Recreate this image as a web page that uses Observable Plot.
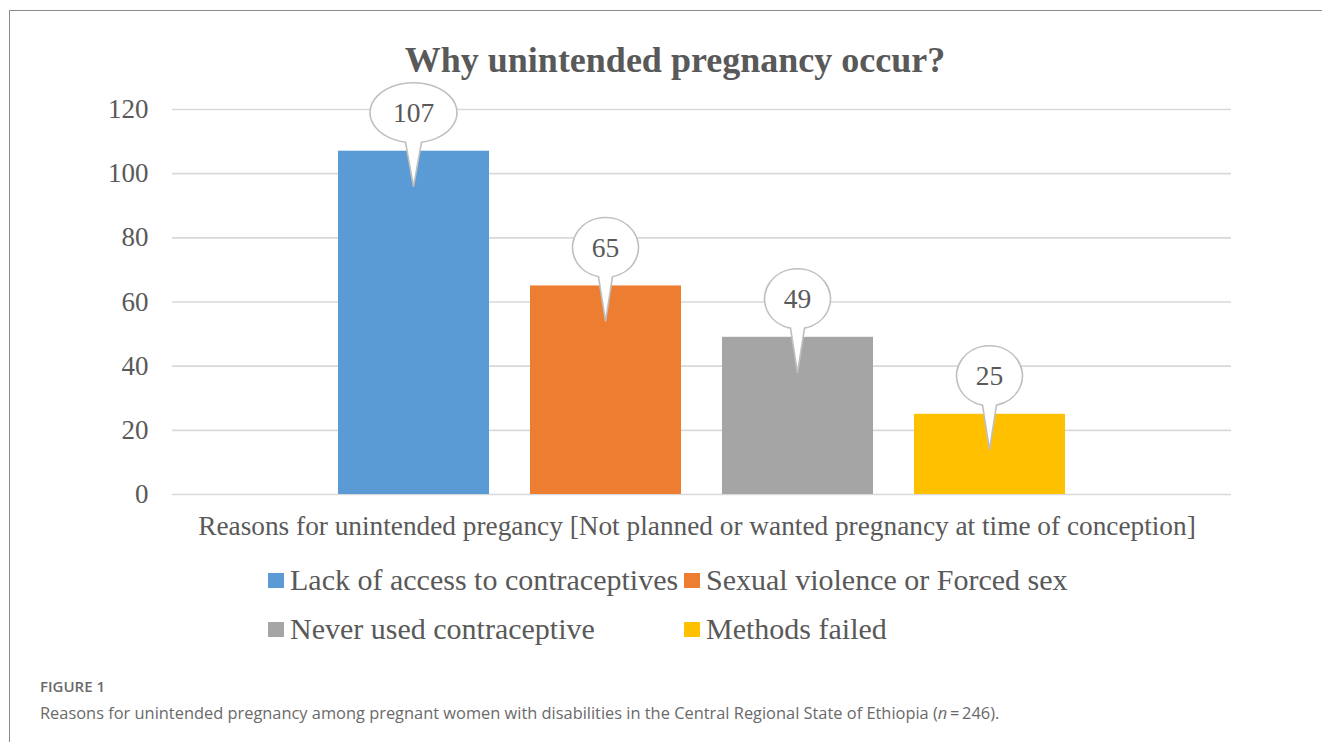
<!DOCTYPE html>
<html>
<head>
<meta charset="utf-8">
<script src="https://cdn.jsdelivr.net/npm/d3@7"></script>
<script src="https://cdn.jsdelivr.net/npm/@observablehq/plot@0.6"></script>
<style>
  html, body { margin: 0; padding: 0; background: #fff; width: 1322px; height: 742px; overflow: hidden; }
  .abs { position: absolute; white-space: nowrap; }
  .serif { font-family: "Liberation Serif", "Times New Roman", serif; }
  #frame { position: absolute; left: 9px; top: 10px; width: 1400px; height: 800px; border-left: 1.5px solid #8a8a8a; border-top: 1.5px solid #8a8a8a; }
  #title { left: 675px; top: 60px; transform: translate(-50%, -50%); font-size: 36px; font-weight: bold; color: #595959; }
  #xlabel { left: 697px; top: 526px; transform: translate(-50%, -50%); font-size: 27.3px; color: #595959; }
  .leg { font-size: 30px; color: #595959; line-height: 1; display: flex; align-items: center; }
  .sw { width: 16px; height: 15px; margin-right: 6px; display: inline-block; }
  #fig { left: 40px; top: 686px; transform: translateY(-50%); font-family: "Open Sans", sans-serif; font-size: 15px; font-weight: 600; color: #6a6a6a; }
  #cap { left: 40px; top: 712px; transform: translateY(-50%); font-family: "Open Sans", sans-serif; font-size: 16.4px; color: #6a6a6a; }
  #chart { position: absolute; left: 0; top: 70px; }
</style>
</head>
<body>
<div id="frame"></div>
<div id="title" class="abs serif"></div>
<div id="chart"></div>
<div id="xlabel" class="abs serif"></div>
<div id="legend"></div>
<div id="fig" class="abs"></div>
<div id="cap" class="abs"></div>
<script>
const titleText = "Why unintended pregnancy occur?";
const xLabelText = "Reasons for unintended pregancy [Not planned or wanted pregnancy at time of conception]";
const series = ["Lack of access to contraceptives", "Sexual violence or Forced sex", "Never used contraceptive", "Methods failed"];
const values = [107, 65, 49, 25];
const colors = ["#5b9bd5", "#ed7d31", "#a5a5a5", "#ffc000"];
const yTicks = [0, 20, 40, 60, 80, 100, 120];
const figLabel = "FIGURE 1";
const captionHTML = "Reasons for unintended pregnancy among pregnant women with disabilities in the Central Regional State of Ethiopia (<i>n</i>\u2009=\u2009246).";

document.getElementById("title").textContent = titleText;
document.getElementById("xlabel").textContent = xLabelText;
document.getElementById("fig").textContent = figLabel;
document.getElementById("cap").innerHTML = captionHTML;

const data = series.map((s, i) => ({series: s, value: values[i]}));

function callouts(index, scales, vals, dimensions, context) {
  const sx = scales.x, sy = scales.y;
  const bw = typeof sx.bandwidth === "function" ? sx.bandwidth() : sx.bandwidth;
  const g = d3.create("svg:g");
  data.forEach(d => {
    const cx = sx(d.series) + bw / 2;
    const top = sy(d.value);
    const cy = top - 38;
    const label = String(d.value);
    const rx = 12 + 10.5 * label.length;
    const ry = 30;
    const tipY = top + 36;
    const hw = label.length > 2 ? 8 : 7;
    const oy = ry * Math.sqrt(1 - (hw * hw) / (rx * rx));
    const x1 = cx - hw, x2 = cx + hw, yb = cy + oy;
    const path = `M${x1},${yb}L${cx},${tipY}L${x2},${yb}A${rx},${ry} 0 1 0 ${x1},${yb}Z`;
    g.append("path")
      .attr("d", path)
      .attr("fill", "#ffffff")
      .attr("stroke", "#bfbfbf")
      .attr("stroke-width", 1.6);
    g.append("text")
      .attr("x", cx)
      .attr("y", cy)
      .attr("dy", "0.35em")
      .attr("text-anchor", "middle")
      .attr("font-family", "Liberation Serif, Times New Roman, serif")
      .attr("font-size", 27.5)
      .attr("fill", "#595959")
      .text(label);
  });
  return g.node();
}

const chart = Plot.plot({
  width: 1322,
  height: 440,
  marginLeft: 172,
  marginRight: 91,
  marginTop: 39,
  marginBottom: 16,
  style: {fontFamily: "Liberation Serif, Times New Roman, serif", fontSize: "27px", color: "#595959", background: "transparent"},
  x: {domain: series, paddingInner: 0.2135, paddingOuter: 0.8646, round: false, axis: null},
  y: {domain: [0, 120], ticks: yTicks},
  color: {domain: series, range: colors},
  marks: [
    Plot.ruleY(yTicks, {stroke: "#d9d9d9", strokeWidth: 1.6}),
    Plot.barY(data, {x: "series", y: "value", fill: "series"}),
    Plot.axisY({ticks: yTicks, tickSize: 0, tickPadding: 24, label: null, fontSize: 27}),
    callouts
  ]
});
document.getElementById("chart").appendChild(chart);

const legPos = [
  {left: 268, top: 580},
  {left: 684, top: 580},
  {left: 268, top: 629},
  {left: 684, top: 629}
];
const legend = document.getElementById("legend");
series.forEach((s, i) => {
  const item = document.createElement("div");
  item.className = "abs serif leg";
  item.style.left = legPos[i].left + "px";
  item.style.top = legPos[i].top + "px";
  item.style.transform = "translateY(-50%)";
  const sw = document.createElement("span");
  sw.className = "sw";
  sw.style.background = colors[i];
  const tx = document.createElement("span");
  tx.textContent = s;
  item.appendChild(sw);
  item.appendChild(tx);
  legend.appendChild(item);
});
</script>
</body>
</html>
